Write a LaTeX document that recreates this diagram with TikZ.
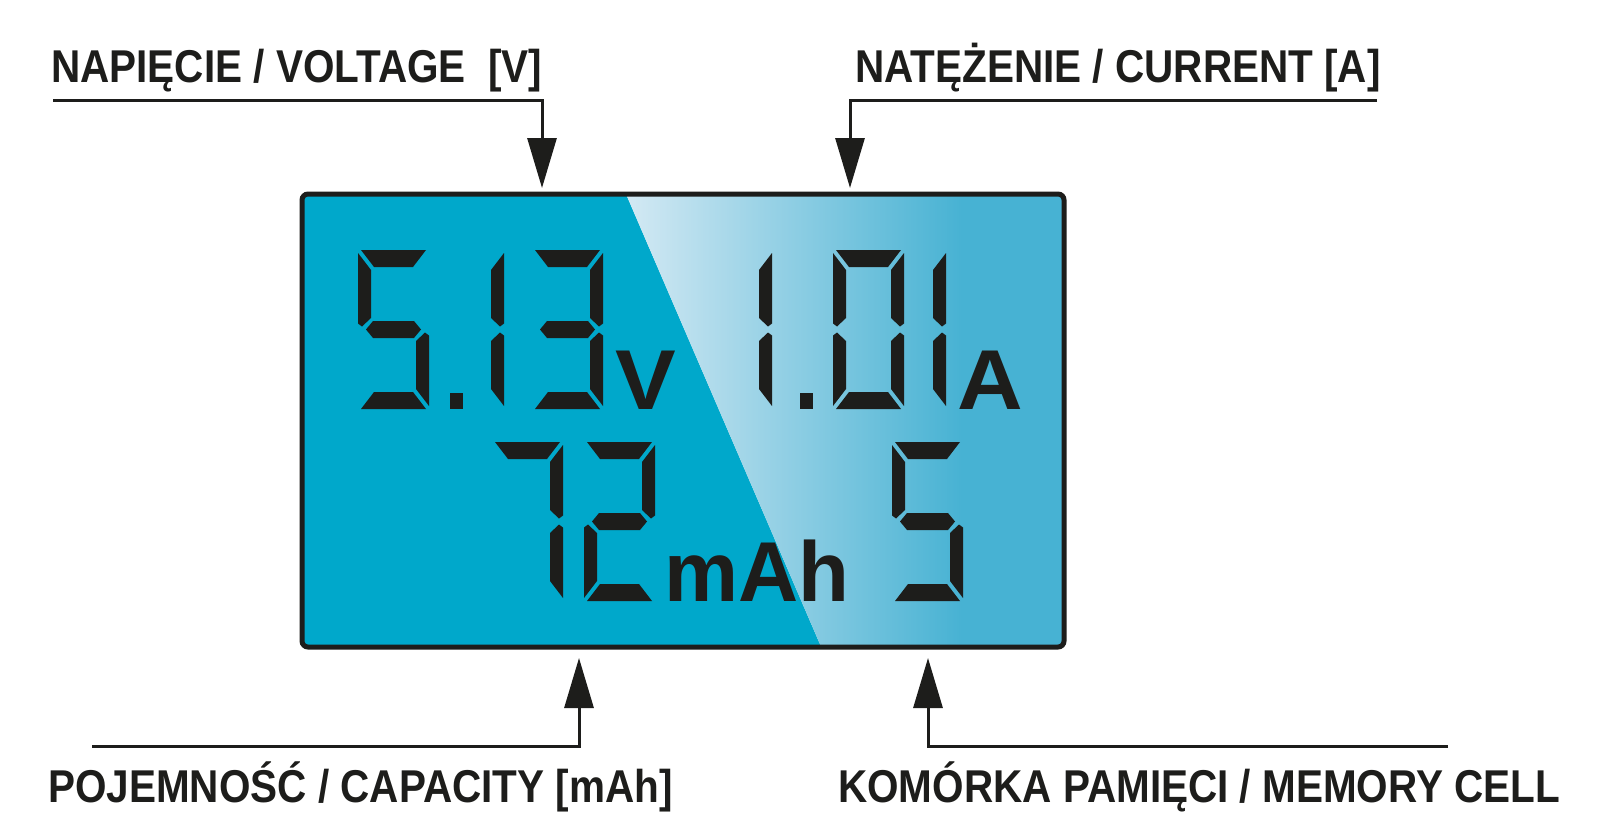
\documentclass[tikz,border=0pt]{standalone}
\usepackage{fontspec}
\usepackage{graphicx}
\usetikzlibrary{arrows.meta}
\setmainfont{Liberation Sans}
\newfontfamily\labfont[FakeStretch=0.88]{Liberation Sans}
\definecolor{ink}{HTML}{1D1D1B}
\definecolor{lcdA}{HTML}{00A8CB}
\definecolor{lcdL}{HTML}{D6EAF4}
\definecolor{lcdM}{HTML}{47B2D3}
% seven-segment shapes in a 71 x 159 frame (y grows downward)
\newcommand{\lcdsega}{\fill[ink] (3,0) -- (68,0) -- (55,17) -- (16,17) -- cycle;}
\newcommand{\lcdsegd}{\fill[ink] (3,159) -- (68,159) -- (55,142) -- (16,142) -- cycle;}
\newcommand{\lcdsegg}{\fill[ink] (8,79.5) -- (15,71) -- (56,71) -- (63,79.5) -- (56,88) -- (15,88) -- cycle;}
\newcommand{\lcdsegf}{\fill[ink] (0,3) -- (13,20) -- (13,68) -- (4,76.5) -- (0,73.5) -- cycle;}
\newcommand{\lcdsege}{\fill[ink] (0,156) -- (13,139) -- (13,91) -- (4,82.5) -- (0,85.5) -- cycle;}
\newcommand{\lcdsegb}{\fill[ink] (71,3) -- (58,20) -- (58,68) -- (67,76.5) -- (71,73.5) -- cycle;}
\newcommand{\lcdsegc}{\fill[ink] (71,156) -- (58,139) -- (58,91) -- (67,82.5) -- (71,85.5) -- cycle;}
\newcommand{\lcddigit}[3]{\begin{scope}[shift={(#1,#2)}]\foreach \s in {#3}{\csname lcdseg\s\endcsname}\end{scope}}
\begin{document}
\begin{tikzpicture}[x=1pt,y=-1pt,
  conn/.style={draw=ink, line width=3pt, -{Triangle[width=29pt,length=50pt]}},
  lab/.style={anchor=base west, inner sep=0pt, text=ink, font=\labfont\bfseries\fontsize{46}{50}\selectfont},
  lcdtxt/.style={anchor=base west, inner sep=0pt, text=ink, font=\bfseries\fontsize{85}{90}\selectfont}]
\useasboundingbox (0,0) rectangle (1600,830);
\fill[white] (0,0) rectangle (1600,830);
% display background
\begin{scope}
  \clip[rounded corners=6pt] (302,194) rectangle (1064,647);
  \fill[lcdA] (295,185) -- (622.1,185) -- (824.6,655) -- (295,655) -- cycle;
  \begin{scope}
    \clip (622.1,185) -- (1070,185) -- (1070,655) -- (824.6,655) -- cycle;
    \shade[left color=lcdL, right color=lcdM] (620,185) rectangle (962,655);
    \fill[lcdM] (961,185) rectangle (1070,655);
  \end{scope}
\end{scope}
\node[draw=ink, line width=5pt, rounded corners=6pt, minimum width=762pt, minimum height=453pt,
      inner sep=0pt, outer sep=0pt, anchor=north west] (disp) at (302,194) {};
% digits row 1
\lcddigit{358}{250}{a,f,g,c,d}
\fill[ink] (450,393) rectangle (463,409);
\lcddigit{433}{250}{b,c}
\lcddigit{532}{250}{a,b,g,c,d}
\node[lcdtxt] (uV) at (615,409) {\scalebox{1.07}[1]{V}};
\lcddigit{701}{250}{b,c}
\fill[ink] (800,393) rectangle (813,409);
\lcddigit{833}{250}{a,b,c,d,e,f}
\lcddigit{875}{250}{b,c}
\node[lcdtxt] (uA) at (957,409) {\scalebox{1.07}[1]{A}};
% digits row 2
\lcddigit{492}{442}{a,b,c}
\lcddigit{584}{442}{a,b,g,e,d}
\node[lcdtxt] (umAh) at (664,601) {\scalebox{0.98}[1]{mAh}};
\lcddigit{892}{442}{a,f,g,c,d}
% labels
\node[lab] (lV) at (51,82) {NAPIĘCIE / VOLTAGE\ \ [V]};
\node[lab] (lA) at (855,82) {NATĘŻENIE / CURRENT [A]};
\node[lab] (lC) at (48,802) {POJEMNOŚĆ / CAPACITY [mAh]};
\node[lab] (lM) at (838,802) {KOMÓRKA PAMIĘCI / MEMORY CELL};
% connectors
\coordinate (tlS) at (53,100); \coordinate (tlC) at (542,100); \coordinate (tlT) at (542,188);
\coordinate (trS) at (1377,100); \coordinate (trC) at (850,100); \coordinate (trT) at (850,188);
\coordinate (blS) at (92,746); \coordinate (blC) at (579,746); \coordinate (blT) at (579,658);
\coordinate (brS) at (1448,746); \coordinate (brC) at (928,746); \coordinate (brT) at (928,658);
\draw[conn] (tlS) -- (tlC) -- (tlT);
\draw[conn] (trS) -- (trC) -- (trT);
\draw[conn] (blS) -- (blC) -- (blT);
\draw[conn] (brS) -- (brC) -- (brT);
\end{tikzpicture}
\end{document}
